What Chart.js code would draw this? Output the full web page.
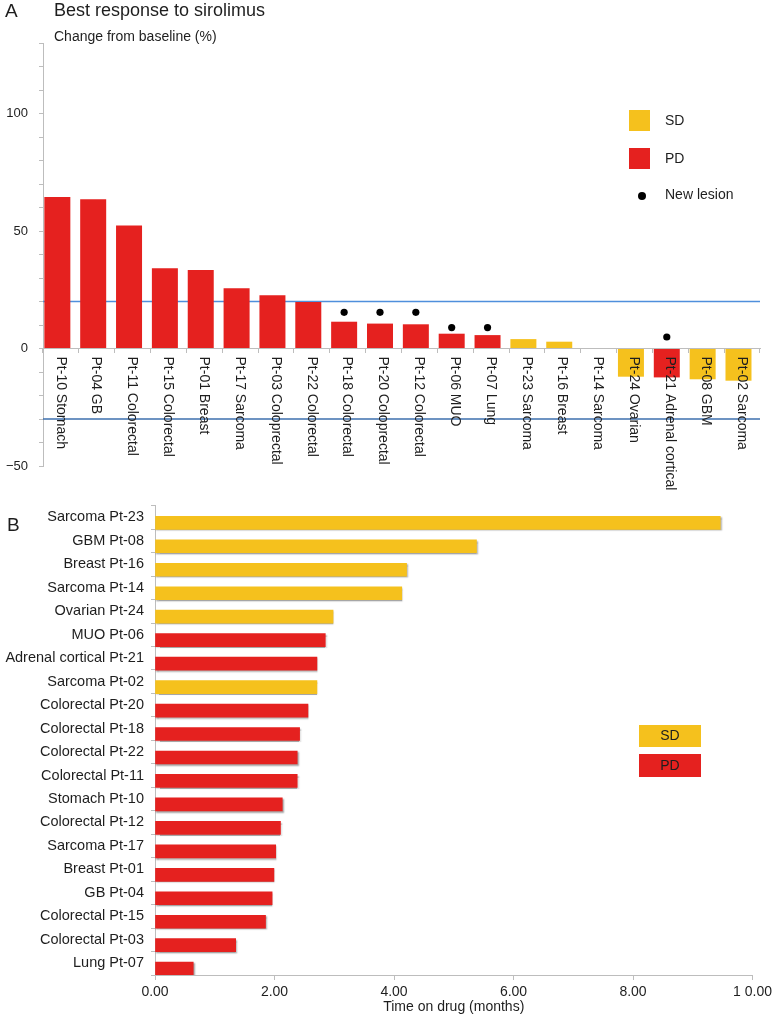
<!DOCTYPE html>
<html><head><meta charset="utf-8">
<script src="https://cdn.jsdelivr.net/npm/chart.js@4.4.0/dist/chart.umd.min.js"></script>
<style>
html,body{margin:0;padding:0;background:#fff;}
#wrap{position:relative;width:776px;height:1020px;overflow:hidden;background:#fff;}
canvas{position:absolute;left:0;}
#c1{top:0;}
#c2{top:490px;}
</style></head><body>
<div id="wrap"><canvas id="c1" width="776" height="500"></canvas><canvas id="c2" width="776" height="530"></canvas></div>
<script>
// ---------- Panel A data ----------
const waterfallLabels = ['Pt-10 Stomach','Pt-04 GB','Pt-11 Colorectal','Pt-15 Colorectal','Pt-01 Breast','Pt-17 Sarcoma','Pt-03 Coloprectal','Pt-22 Colorectal','Pt-18 Colorectal','Pt-20 Coloprectal','Pt-12 Colorectal','Pt-06 MUO','Pt-07 Lung','Pt-23 Sarcoma','Pt-16 Breast','Pt-14 Sarcoma','Pt-24 Ovarian','Pt-21 Adrenal cortical','Pt-08 GBM','Pt-02 Sarcoma'];
const waterfallValues = [64.5, 63.5, 52.3, 34.2, 33.4, 25.6, 22.7, 19.8, 11.4, 10.6, 10.3, 6.3, 5.7, 4.0, 2.9, 0, -12.0, -12.3, -13.1, -13.7];
const waterfallResponse = ['PD','PD','PD','PD','PD','PD','PD','PD','PD','PD','PD','PD','PD','SD','SD','SD','SD','PD','SD','SD'];
const newLesionMarks = [null,null,null,null,null,null,null,null,15.4,15.4,15.4,8.9,8.9,null,null,null,null,4.9,null,null];
const thresholdLines = [20, -30];
const waterfallTickValues = [-50, 0, 50, 100];
const waterfallTickText = ['\u221250', '0', '50', '100'];
const legendItemsA = ['SD', 'PD', 'New lesion'];

// ---------- Panel B data ----------
const swimmerLabels = ['Sarcoma Pt-23','GBM Pt-08','Breast Pt-16','Sarcoma Pt-14','Ovarian Pt-24','MUO Pt-06','Adrenal cortical Pt-21','Sarcoma Pt-02','Colorectal Pt-20','Colorectal Pt-18','Colorectal Pt-22','Colorectal Pt-11','Stomach Pt-10','Colorectal Pt-12','Sarcoma Pt-17','Breast Pt-01','GB Pt-04','Colorectal Pt-15','Colorectal Pt-03','Lung Pt-07'];
const swimmerMonths = [9.46, 5.38, 4.21, 4.13, 2.98, 2.85, 2.71, 2.71, 2.56, 2.42, 2.38, 2.38, 2.13, 2.10, 2.02, 1.99, 1.96, 1.85, 1.35, 0.64];
const swimmerResponse = ['SD','SD','SD','SD','SD','PD','PD','SD','PD','PD','PD','PD','PD','PD','PD','PD','PD','PD','PD','PD'];
const swimmerTickText = ['0.00', '2.00', '4.00', '6.00', '8.00', '1 0.00'];
const legendItemsB = ['SD', 'PD'];

// ---------- styling ----------
const COLORS = { SD: '#F5C11D', PD: '#E5211F' };
const AXIS = '#bdbdbd';
const TXT = '#1e1e1e';
const LINE_COLORS = ['#4f8fdc', '#3d6fae'];
const FONT = "'Liberation Sans', Arial, Helvetica, sans-serif";
Chart.defaults.font.family = FONT;
Chart.defaults.color = TXT;

const NA = waterfallLabels.length;
const SHIFT_A = 0.40;   // bars sit toward the left of each category slot
const NB = swimmerLabels.length;
const SHIFT_B = 0.73;   // bars sit toward the bottom of each row slot

const panelAText = {
  id: 'panelAText',
  afterDatasetsDraw(chart) {
    const { ctx, scales: { x, y } } = chart;
    const y0 = y.getPixelForValue(0);
    ctx.save();
    ctx.font = '14px ' + FONT;
    ctx.fillStyle = TXT;
    ctx.textAlign = 'left';
    ctx.textBaseline = 'middle';
    chart.data.labels.forEach((lab, i) => {
      const px = x.getPixelForValue(i);
      ctx.save();
      ctx.translate(px - 0.5, y0 + 8);
      ctx.rotate(Math.PI / 2);
      ctx.fillText(lab, 0, 0);
      ctx.restore();
    });
    ctx.restore();
  },
  afterDraw(chart) {
    const ctx = chart.ctx;
    ctx.save();
    ctx.fillStyle = TXT;
    ctx.textBaseline = 'alphabetic';
    ctx.textAlign = 'left';
    ctx.font = '19px ' + FONT;
    ctx.fillText('A', 5, 17);
    ctx.font = '18px ' + FONT;
    ctx.fillText('Best response to sirolimus', 54, 15.5);
    ctx.font = '14px ' + FONT;
    ctx.fillText('Change from baseline (%)', 54, 40.5);
    // legend
    ctx.fillStyle = COLORS.SD; ctx.fillRect(629, 110, 21, 21);
    ctx.fillStyle = COLORS.PD; ctx.fillRect(629, 148, 21, 21);
    ctx.fillStyle = '#000'; ctx.beginPath(); ctx.arc(642, 196, 4, 0, Math.PI * 2); ctx.fill();
    ctx.fillStyle = TXT; ctx.textBaseline = 'middle'; ctx.font = '14px ' + FONT;
    ctx.fillText(legendItemsA[0], 665, 121);
    ctx.fillText(legendItemsA[1], 665, 159);
    ctx.fillText(legendItemsA[2], 665, 195);
    ctx.restore();
  }
};

const thresholdDatasets = thresholdLines.map((t, k) => ({
  type: 'line',
  data: [{ x: 0, y: t }, { x: NA, y: t }],
  xAxisID: 'xb', yAxisID: 'y',
  borderColor: LINE_COLORS[k], backgroundColor: LINE_COLORS[k],
  borderWidth: 1.3, pointRadius: 0, fill: false, tension: 0, order: 10
}));

new Chart(document.getElementById('c1'), {
  type: 'bar',
  data: {
    labels: waterfallLabels,
    datasets: [
      ...thresholdDatasets,
      { type: 'bar', data: waterfallValues.map((v, i) => ({ x: i + SHIFT_A, y: v })), backgroundColor: waterfallResponse.map(r => COLORS[r]), borderWidth: 0, inflateAmount: 0, xAxisID: 'xb', yAxisID: 'y', barThickness: 26, order: 5 },
      { type: 'scatter', showLine: false, data: newLesionMarks.map((v, i) => v == null ? null : { x: i + SHIFT_A, y: v }).filter(p => p), xAxisID: 'xb', yAxisID: 'y', pointRadius: 3.6, backgroundColor: '#000', borderColor: '#000', borderWidth: 0, order: 1 }
    ]
  },
  options: {
    responsive: false,
    animation: false,
    layout: { padding: { top: 43, right: 16, bottom: 34, left: 0 } },
    plugins: { legend: { display: false }, tooltip: { enabled: false } },
    scales: {
      xb: { type: 'linear', min: 0, max: NA, display: false, offset: false },
      x: {
        type: 'category', position: { y: 0 }, offset: true,
        grid: { offset: true, drawOnChartArea: false, drawTicks: true, tickLength: 4, color: AXIS },
        border: { display: true, color: AXIS },
        ticks: { display: false }
      },
      y: {
        type: 'linear', position: 'left', min: -50, max: 130,
        afterFit: s => { s.width = 43; },
        ticks: {
          stepSize: 10, autoSkip: false, padding: 11, font: { size: 13 }, color: TXT,
          callback: v => { const k = waterfallTickValues.indexOf(v); return k >= 0 ? waterfallTickText[k] : ''; }
        },
        grid: { drawOnChartArea: false, tickLength: 4, color: AXIS },
        border: { color: AXIS }
      }
    }
  },
  plugins: [panelAText]
});

const panelBExtras = {
  id: 'panelBExtras',
  beforeDatasetsDraw(chart) {
    const ctx = chart.ctx;
    ctx.save();
    ctx.shadowColor = 'rgba(0,0,0,0.35)';
    ctx.shadowOffsetX = 1;
    ctx.shadowOffsetY = 1.5;
    ctx.shadowBlur = 1.5;
  },
  afterDatasetsDraw(chart) {
    chart.ctx.restore();
  },
  afterDraw(chart) {
    const ctx = chart.ctx;
    ctx.save();
    ctx.fillStyle = TXT;
    ctx.textAlign = 'left';
    ctx.textBaseline = 'alphabetic';
    ctx.font = '19px ' + FONT;
    ctx.fillText('B', 7, 41);
    ctx.fillStyle = COLORS.SD; ctx.fillRect(639, 235, 62, 22);
    ctx.fillStyle = COLORS.PD; ctx.fillRect(639, 264, 62, 23);
    ctx.fillStyle = TXT; ctx.textAlign = 'center'; ctx.textBaseline = 'middle'; ctx.font = '14px ' + FONT;
    ctx.fillText(legendItemsB[0], 670, 246.5);
    ctx.fillText(legendItemsB[1], 670, 276);
    ctx.restore();
  }
};

new Chart(document.getElementById('c2'), {
  type: 'bar',
  data: {
    labels: swimmerLabels,
    datasets: [
      { data: swimmerMonths.map((v, i) => ({ x: v, y: i + SHIFT_B })), backgroundColor: swimmerResponse.map(r => COLORS[r]), xAxisID: 'x', yAxisID: 'yb', barThickness: 13 }
    ]
  },
  options: {
    indexAxis: 'y',
    responsive: false,
    animation: false,
    layout: { padding: { top: 15, right: 19, bottom: 0, left: 0 } },
    plugins: { legend: { display: false }, tooltip: { enabled: false } },
    scales: {
      yb: { type: 'linear', min: 0, max: NB, reverse: true, display: false, offset: false },
      y: {
        type: 'category', position: 'left', offset: true,
        afterFit: s => { s.width = 155; },
        grid: { offset: true, drawOnChartArea: false, tickLength: 4, color: AXIS },
        border: { color: AXIS },
        ticks: { padding: 7, autoSkip: false, font: { size: 14.5 }, color: TXT }
      },
      x: {
        type: 'linear', position: 'bottom', min: 0, max: 10,
        afterFit: s => { s.height = 45; },
        ticks: { stepSize: 2, padding: 4, font: { size: 14 }, color: TXT, callback: (v, i) => swimmerTickText[i] },
        grid: { drawOnChartArea: false, tickLength: 5, color: AXIS },
        border: { color: AXIS },
        title: { display: true, text: 'Time on drug (months)', font: { size: 14 }, color: TXT, padding: { top: 0, bottom: 4 } }
      }
    }
  },
  plugins: [panelBExtras]
});
</script>
</body></html>
